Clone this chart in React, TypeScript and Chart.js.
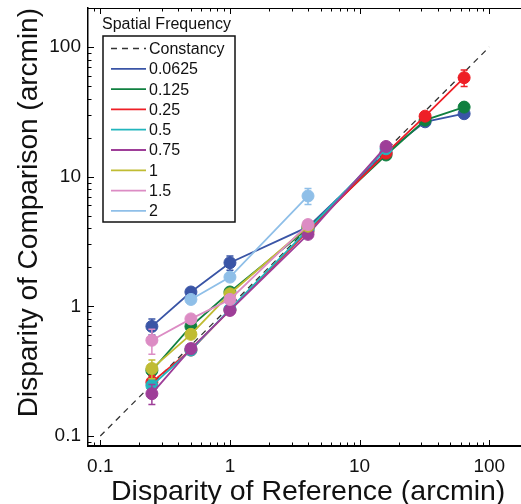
import React, { useEffect, useRef } from "react";
import { Chart, registerables } from "chart.js";

Chart.register(...registerables);

// ---- data ----
const referenceDisparity = [0.25, 0.5, 1, 4, 16, 32, 64];
const frequencyLabels = ["0.0625", "0.125", "0.25", "0.5", "0.75", "1", "1.5", "2"];
const frequencyColors = ["#3a55a6", "#108040", "#ee1f26", "#22b5bd", "#9e3e98", "#c0bc33", "#dc8cc4", "#8fbfe8"];

const sf0_0625 = [0.70, 1.29, 2.17, 4.1, 15.4, 26.5, 30.6];
const sf0_125 = [0.32, 0.70, 1.29, 4.0, 14.7, 27.3, 34.4];
const sf0_25 = [0.26, 0.46, 0.94, 3.8, 15.2, 29.3, 58];
const sf0_5 = [0.245, 0.46, 0.95, 3.9, 16.4, null, null];
const sf0_75 = [0.212, 0.472, 0.93, 3.59, 17.1, null, null];
const sf1 = [0.331, 0.608, 1.25, 4.15, null, null, null];
const sf1_5 = [0.547, 0.8, 1.13, 4.27, null, null, null];
const sf2 = [null, 1.13, 1.68, 7.1, null, null, null];

const err0_0625 = [0.1, 0.08, 0.27, 0.3, 0.8, 1.0, 1.5];
const err0_125 = [0.03, 0.05, 0.08, 0.2, 0.8, 1.0, 1.8];
const err0_25 = [0.033, 0.03, 0.05, 0.2, 0.8, 1.5, 8.5];
const err0_5 = [0.03, 0.03, 0.05, 0.2, 0.8, null, null];
const err0_75 = [0.037, 0.04, 0.06, 0.2, 1.0, null, null];
const err1 = [0.055, 0.04, 0.08, 0.25, null, null, null];
const err1_5 = [0.12, 0.05, 0.06, 0.25, null, null, null];
const err2 = [null, 0.06, 0.1, 1.0, null, null, null];

const seriesValues = [sf0_0625, sf0_125, sf0_25, sf0_5, sf0_75, sf1, sf1_5, sf2];
const seriesErrors = [err0_0625, err0_125, err0_25, err0_5, err0_75, err1, err1_5, err2];

const constancyX = [0.1, 100];
const tickValues = [0.1, 1, 10, 100];
const tickLabels = ["0.1", "1", "10", "100"];
const legendTitle = "Spatial Frequency";
const xTitle = "Disparity of Reference (arcmin)";
const yTitle = "Disparity of Comparison (arcmin)";

const FONT = "'Liberation Sans', Arial, Helvetica, sans-serif";
const CANVAS_W = 540;

const errorBarPlugin = {
  id: "errorBars",
  beforeDatasetDraw(chart: any, args: any) {
    const ds = chart.data.datasets[args.index];
    if (!ds.hasErrors) return;
    const ctx = chart.ctx;
    const ys = chart.scales.y;
    ctx.save();
    ctx.strokeStyle = ds.borderColor;
    ctx.lineWidth = 1.5;
    args.meta.data.forEach((pt: any, j: number) => {
      const p = ds.data[j];
      if (!p || p.e == null) return;
      const top = ys.getPixelForValue(p.y + p.e);
      const bot = ys.getPixelForValue(Math.max(p.y - p.e, 1e-6));
      const x = pt.x;
      ctx.beginPath();
      ctx.moveTo(x, top); ctx.lineTo(x, bot);
      ctx.moveTo(x - 3.5, top); ctx.lineTo(x + 3.5, top);
      ctx.moveTo(x - 3.5, bot); ctx.lineTo(x + 3.5, bot);
      ctx.stroke();
    });
    ctx.restore();
  },
};

const frameTicksPlugin = {
  id: "frameTicks",
  afterDraw(chart: any) {
    const { ctx, chartArea: a, scales } = chart;
    const xs = scales.x, ys = scales.y;
    ctx.save();
    ctx.strokeStyle = "#000";
    ctx.lineWidth = 1;
    ctx.beginPath();
    ctx.moveTo(a.left, a.top + 0.5); ctx.lineTo(a.right, a.top + 0.5);
    ctx.stroke();
    const marks: { v: number; major: boolean }[] = [];
    for (let e = -2; e <= 2; e++) {
      for (let s = 1; s <= 9; s++) marks.push({ v: s * Math.pow(10, e), major: s === 1 });
    }
    ctx.beginPath();
    marks.forEach(({ v, major }) => {
      const len = major ? 6 : 3.5;
      if (v >= xs.min && v < xs.max) {
        const px = Math.round(xs.getPixelForValue(v)) + 0.5;
        ctx.moveTo(px, a.bottom); ctx.lineTo(px, a.bottom - len);
        ctx.moveTo(px, a.top); ctx.lineTo(px, a.top + len);
      }
      if (v >= ys.min && v < ys.max) {
        const py = Math.round(ys.getPixelForValue(v)) + 0.5;
        ctx.moveTo(a.left, py); ctx.lineTo(a.left + len, py);
      }
    });
    ctx.stroke();
    ctx.restore();
  },
};

const legendPlugin = {
  id: "boxLegend",
  afterDraw(chart: any) {
    const ctx = chart.ctx;
    const left = 103, top = 36, right = 235, bottom = 222;
    ctx.save();
    ctx.fillStyle = "#fff";
    ctx.fillRect(left, top, right - left, bottom - top);
    ctx.strokeStyle = "#111";
    ctx.lineWidth = 1.5;
    ctx.strokeRect(left, top, right - left, bottom - top);
    ctx.font = `16px ${FONT}`;
    ctx.fillStyle = "#111";
    ctx.textBaseline = "middle";
    ctx.textAlign = "left";
    ctx.fillText(legendTitle, 102, 25);
    chart.data.datasets.forEach((ds: any, i: number) => {
      const y = 48.5 + i * 20.3;
      ctx.strokeStyle = ds.borderColor;
      ctx.lineWidth = ds.borderDash ? 1.5 : 1.8;
      ctx.setLineDash(ds.borderDash || []);
      ctx.beginPath();
      ctx.moveTo(111, y); ctx.lineTo(146, y);
      ctx.stroke();
      ctx.setLineDash([]);
      ctx.fillStyle = "#111";
      ctx.fillText(ds.label, 149, y + 1);
    });
    ctx.restore();
  },
};

export default function App() {
  const ref = useRef<HTMLCanvasElement>(null);
  useEffect(() => {
    if (!ref.current) return;
    const datasets: any[] = [
      {
        label: "Constancy",
        data: constancyX.map((v) => ({ x: v, y: v })),
        borderColor: "#333",
        borderWidth: 1.3,
        borderDash: [6, 5],
        pointRadius: 0,
        showLine: true,
        order: 100,
      },
    ];
    seriesValues.forEach((vals, i) => {
      const errs = seriesErrors[i];
      datasets.push({
        label: frequencyLabels[i],
        data: referenceDisparity
          .map((x, j) => ({ x, y: vals[j], e: errs[j] }))
          .filter((p) => p.y != null),
        borderColor: frequencyColors[i],
        backgroundColor: frequencyColors[i],
        pointBackgroundColor: frequencyColors[i],
        pointBorderColor: frequencyColors[i],
        pointBorderWidth: 1,
        pointRadius: 6,
        borderWidth: 1.8,
        showLine: true,
        hasErrors: true,
        order: 50 - i,
      });
    });
    Chart.defaults.font.family = FONT;
    const chart = new Chart(ref.current, {
      type: "scatter",
      data: { datasets },
      plugins: [errorBarPlugin, frameTicksPlugin, legendPlugin],
      options: {
        animation: false,
        responsive: false,
        devicePixelRatio: 1,
        layout: { autoPadding: false, padding: { top: 8, right: CANVAS_W - 528.3, left: 0, bottom: 0 } },
        plugins: { legend: { display: false }, tooltip: { enabled: false } },
        scales: {
          x: {
            type: "logarithmic",
            min: 0.0804,
            max: 200,
            grid: { display: false, drawTicks: false },
            border: { display: true, color: "#000", width: 2 },
            afterBuildTicks: (s: any) => { s.ticks = tickValues.map((v) => ({ value: v })); },
            afterFit: (s: any) => { s.height = 58; s.paddingLeft = 0; s.paddingRight = 0; },
            ticks: {
              autoSkip: false,
              maxRotation: 0,
              padding: 9,
              color: "#111",
              font: { size: 19, family: FONT },
              callback: (v: any) => { const k = tickValues.indexOf(Number(v)); return k >= 0 ? tickLabels[k] : ""; },
            },
            title: { display: true, text: xTitle, color: "#111", font: { size: 28.5, family: FONT }, padding: { top: 0, bottom: -5 } },
          },
          y: {
            type: "logarithmic",
            min: 0.0837,
            max: 200,
            grid: { display: false, drawTicks: false },
            border: { display: true, color: "#000", width: 1.5 },
            afterBuildTicks: (s: any) => { s.ticks = tickValues.map((v) => ({ value: v })); },
            afterFit: (s: any) => { s.width = 88; s.paddingTop = 0; s.paddingBottom = 0; },
            ticks: {
              autoSkip: false,
              padding: 7,
              color: "#111",
              font: { size: 19, family: FONT },
              callback: (v: any) => { const k = tickValues.indexOf(Number(v)); return k >= 0 ? tickLabels[k] : ""; },
            },
            title: { display: true, text: yTitle, color: "#111", align: "end", font: { size: 28, family: FONT }, padding: { top: 12, bottom: 0 } },
          },
        },
      } as any,
    });
    return () => chart.destroy();
  }, []);
  return (
    <div style={{ position: "fixed", left: 0, top: 0, width: 521, height: 504, overflow: "hidden", background: "#fff" }}>
      <canvas ref={ref} width={CANVAS_W} height={504} style={{ display: "block", width: CANVAS_W, height: 504 }} />
    </div>
  );
}
